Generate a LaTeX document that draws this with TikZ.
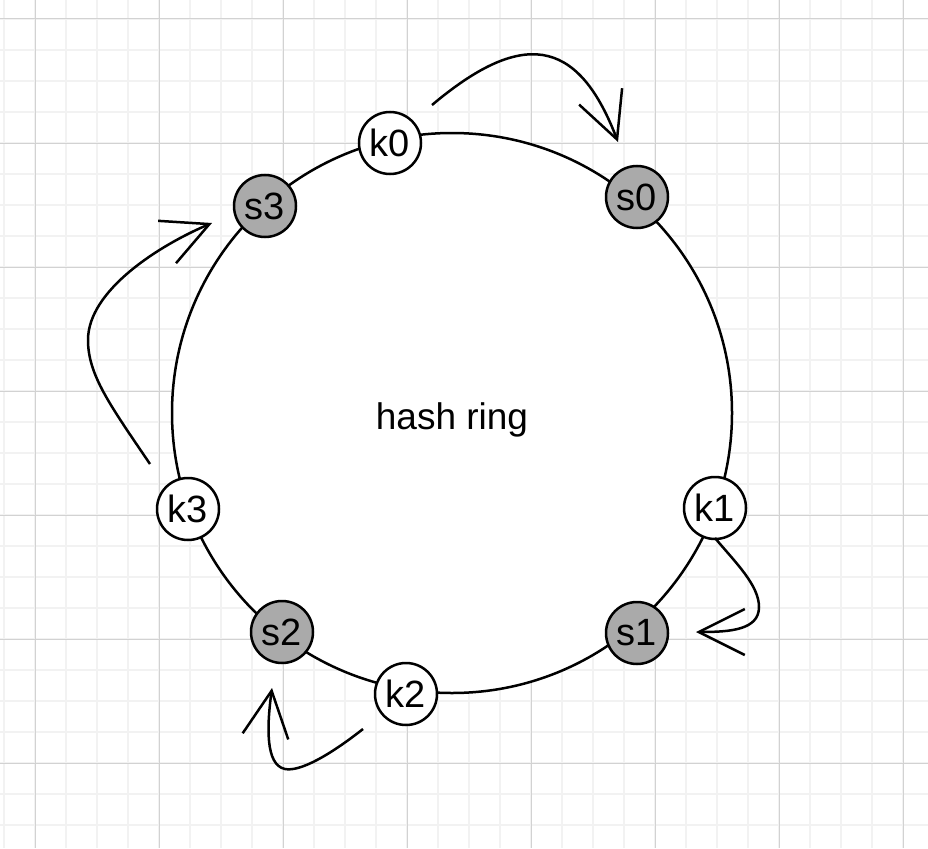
\documentclass[tikz,border=0pt]{standalone}
\usepackage{fontspec}
\setmainfont{Liberation Sans}
\usetikzlibrary{arrows.meta}
\definecolor{gridmajor}{RGB}{210,210,210}
\definecolor{gridminor}{RGB}{242,242,242}
\definecolor{servergray}{RGB}{170,170,170}
\begin{document}
\begin{tikzpicture}[x=1pt,y=-1pt,
  keynode/.style={circle, draw=black, line width=2.5pt, fill=white, minimum size=62pt, inner sep=0pt, font=\fontsize{38}{44}\selectfont},
  servernode/.style={keynode, fill=servergray},
  ringstyle/.style={circle, draw=black, line width=2.5pt, fill=white, minimum size=560pt, inner sep=0pt},
  labelstyle/.style={font=\fontsize{37}{44}\selectfont, inner sep=0pt},
  flow/.style={line width=2.5pt, -{Straight Barb[length=46pt,width=46pt]}},
  minorline/.style={draw=gridminor, line width=1.3pt},
  majorline/.style={draw=gridmajor, line width=1pt}]
\useasboundingbox (0,0) rectangle (928,848);
\fill[white] (0,0) rectangle (928,848);
% grid
\foreach \i in {0,...,29} { \draw[minorline] ({4+31*\i},0) -- ({4+31*\i},848); }
\foreach \j in {0,...,26} { \draw[minorline] (0,{19+31*\j}) -- (928,{19+31*\j}); }
\foreach \i in {0,...,7} { \draw[majorline] ({35+124*\i},0) -- ({35+124*\i},848); }
\foreach \j in {0,...,6} { \draw[majorline] (0,{19+124*\j}) -- (928,{19+124*\j}); }
% ring
\node[ringstyle] (ring) at (452,413) {};
\node[labelstyle] (lbl) at (452,420) {hash ring};
% nodes
\node[keynode] (k0) at (390,143) {k0};
\node[servernode] (s0) at (637,197) {s0};
\node[servernode] (s3) at (265,206) {s3};
\node[keynode] (k1) at (715,508) {k1};
\node[servernode] (s1) at (637,633) {s1};
\node[servernode] (s2) at (282,632) {s2};
\node[keynode] (k2) at (406,694) {k2};
\node[keynode] (k3) at (188,509) {k3};
% arrow end points
\coordinate (a0s) at (432,105);
\coordinate (a0e) at (618,142);
\coordinate (a3s) at (150,464);
\coordinate (a3m) at (88,340);
\coordinate (a3e) at (212,223);
\coordinate (a1s) at (715,538);
\coordinate (a1m) at (759,607);
\coordinate (a1e) at (696,632);
\coordinate (a2s) at (363,729);
\coordinate (a2m) at (285,769);
\coordinate (a2e) at (272,688);
% arrows
\draw[flow] (a0s) .. controls (520,31) and (577,34.5) .. (a0e);
\draw[flow] (a3s) .. controls (110,405) and (88,375) .. (a3m) .. controls (88,290) and (160,245) .. (a3e);
\draw[flow] (a1s) .. controls (735,562) and (759,585) .. (a1m) .. controls (759,630) and (730,632) .. (a1e);
\draw[flow] (a2s) .. controls (330,755) and (300,772) .. (a2m) .. controls (265,765) and (267,725) .. (a2e);
\end{tikzpicture}
\end{document}
